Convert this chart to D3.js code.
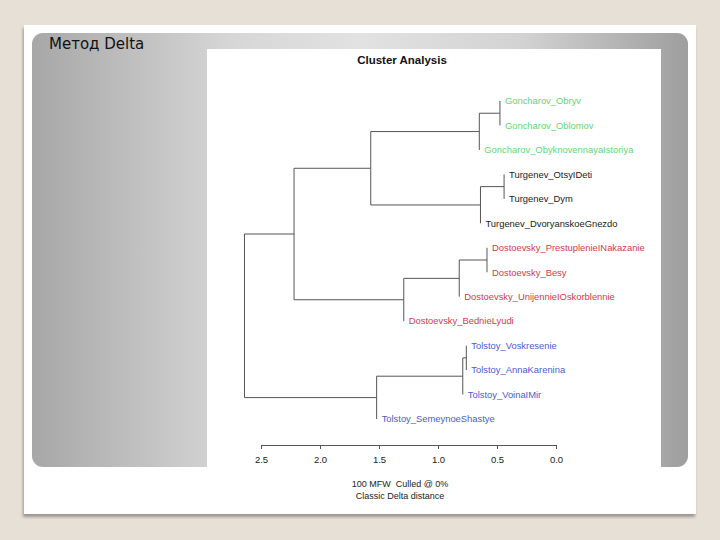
<!DOCTYPE html>
<html><head><meta charset="utf-8">
<script src="https://cdn.jsdelivr.net/npm/d3@7"></script>
<style>html,body{margin:0;padding:0;background:#e6e0d6;}svg{display:block;}</style>
</head><body>
<svg id="c" width="720" height="540"></svg>
<script>
// ---- data ----
const leaves = [
  "Goncharov_Obryv","Goncharov_Oblomov","Goncharov_ObyknovennayaIstoriya",
  "Turgenev_OtsyIDeti","Turgenev_Dym","Turgenev_DvoryanskoeGnezdo",
  "Dostoevsky_PrestuplenieINakazanie","Dostoevsky_Besy","Dostoevsky_UnijennieIOskorblennie","Dostoevsky_BednieLyudi",
  "Tolstoy_Voskresenie","Tolstoy_AnnaKarenina","Tolstoy_VoinaIMir","Tolstoy_SemeynoeShastye"
];
const authors = ["Goncharov","Turgenev","Dostoevsky","Tolstoy"];
const authorColors = ["#62d872","#1a1a1a","#d23a4c","#4a5ccc"];
// R-style merge matrix: negative = leaf index (1-based), positive = earlier merge
const mergeLeft   = [-1, 1, -4, 3, 2, -7, 6, 7, 5, -11, 10, 11, 9];
const mergeRight  = [-2, -3, -5, -6, 4, -8, -9, -10, 8, -12, -13, -14, 12];
const mergeHeight = [0.475, 0.65, 0.44, 0.64, 1.57, 0.585, 0.82, 1.29, 2.22, 0.76, 0.79, 1.52, 2.64];
const tickValues = [2.5, 2.0, 1.5, 1.0, 0.5, 0.0];
const title = "Cluster Analysis";
const subtitle1 = "100 MFW  Culled @ 0%";
const subtitle2 = "Classic Delta distance";
const slideTitle = "Метод Delta";

// ---- drawing ----
const svg = d3.select("#c");
const defs = svg.append("defs");
const g1 = defs.append("linearGradient").attr("id","panel").attr("x1","0").attr("x2","1").attr("y1","0").attr("y2","0");
[[0,"#a7a7a7"],[0.3,"#d6d6d6"],[0.5,"#e2e2e2"],[0.75,"#d2d2d2"],[1,"#9e9e9e"]].forEach(s=>g1.append("stop").attr("offset",s[0]).attr("stop-color",s[1]));
const f = defs.append("filter").attr("id","sh").attr("x","-5%").attr("y","-5%").attr("width","110%").attr("height","110%");
f.append("feDropShadow").attr("dx",-1).attr("dy",3).attr("stdDeviation",1.5).attr("flood-color","#8a847a").attr("flood-opacity",0.8);

// slide card
svg.append("rect").attr("x",24).attr("y",25).attr("width",672).attr("height",489).attr("fill","#fff").attr("filter","url(#sh)");
// gray panel
svg.append("rect").attr("x",32).attr("y",33).attr("width",656).attr("height",434).attr("rx",11).attr("fill","url(#panel)");
// chart image area
svg.append("rect").attr("x",207).attr("y",49).attr("width",454).attr("height",464).attr("fill","#fff");

svg.append("text").attr("x",49).attr("y",49).attr("font-family","DejaVu Sans, sans-serif").attr("font-size",15).attr("fill","#111").text(slideTitle);

svg.append("text").attr("x",402).attr("y",64).attr("text-anchor","middle").attr("font-family","Liberation Sans, Arial, sans-serif")
  .attr("font-weight","bold").attr("font-size",11.5).attr("fill","#111").text(title);

const x = d3.scaleLinear().domain([2.5, 0]).range([261, 556]);
const y = d3.scalePoint().domain(leaves).range([101, 419]);

// node positions
const nodes = mergeHeight.map(()=>null);
function pos(ref){
  if (ref < 0) return {x: null, y: y(leaves[-ref-1]), leaf: -ref-1};
  return nodes[ref-1];
}
const segs = [];
const leafPos = [];
mergeHeight.forEach((h,i)=>{
  const a = pos(mergeLeft[i]), b = pos(mergeRight[i]);
  const nx = x(h);
  const ny = (a.y + b.y)/2;
  nodes[i] = {x: nx, y: ny};
  segs.push([nx, a.y, nx, b.y]);
  [a,b].forEach(c=>{
    if (c.leaf !== undefined) leafPos.push({i:c.leaf, x:nx, y:c.y});
    else segs.push([nx, c.y, c.x, c.y]);
  });
});

svg.append("g").selectAll("line").data(segs).join("line")
  .attr("x1",d=>d[0]).attr("y1",d=>d[1]).attr("x2",d=>d[2]).attr("y2",d=>d[3])
  .attr("stroke","#555").attr("stroke-width",1);

const colorOf = name => authorColors[authors.indexOf(name.split("_")[0])];
svg.append("g").selectAll("text").data(leafPos).join("text")
  .attr("x",d=>d.x+5).attr("y",d=>d.y).attr("dy","0.35em")
  .attr("font-family","Liberation Sans, Arial, sans-serif").attr("font-size",9.4)
  .attr("fill",d=>colorOf(leaves[d.i])).text(d=>leaves[d.i]);

// axis
const ax = svg.append("g").attr("transform","translate(0,445)")
  .call(d3.axisBottom(x).tickValues(tickValues).tickFormat(d3.format(".1f")).tickSize(4).tickSizeOuter(0).tickPadding(7));
ax.select(".domain").attr("stroke","#555");
ax.selectAll(".tick line").attr("stroke","#555");
ax.selectAll(".tick text").attr("font-family","Liberation Sans, Arial, sans-serif").attr("font-size",9.5).attr("fill","#222");

svg.append("text").attr("x",400).attr("y",487).attr("text-anchor","middle").attr("font-family","Liberation Sans, Arial, sans-serif")
  .attr("font-size",9).attr("fill","#222").style("white-space","pre").text(subtitle1);
svg.append("text").attr("x",400).attr("y",499).attr("text-anchor","middle").attr("font-family","Liberation Sans, Arial, sans-serif")
  .attr("font-size",9).attr("fill","#222").text(subtitle2);
</script>
</body></html>
